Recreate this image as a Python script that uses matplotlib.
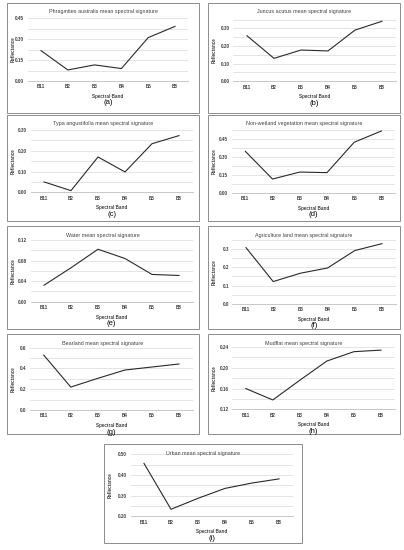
import numpy as np
import matplotlib.pyplot as plt
from matplotlib.patches import Rectangle

plt.rcParams['font.family'] = ['Liberation Sans', 'DejaVu Sans']

bands = ['B11', 'B2', 'B3', 'B4', 'B5', 'B8']

titles = [
    'Phragmites australis mean spectral signature',
    'Juncus acutus mean spectral signature',
    'Typa angustifolia mean spectral signature',
    'Non-wetland vegetation mean spectral signature',
    'Water mean spectral signature',
    'Agriculture land mean spectral signature',
    'Bearland mean spectral signature',
    'Mudflat mean spectral signature',
    'Urban mean spectral signature',
]
captions = ['(a)', '(b)', '(c)', '(d)', '(e)', '(f)', '(g)', '(h)', '(i)']

phragmites = [0.217, 0.079, 0.115, 0.089, 0.310, 0.390]
juncus = [0.258, 0.130, 0.177, 0.172, 0.290, 0.340]
typha = [0.050, 0.008, 0.170, 0.098, 0.234, 0.273]
non_wetland = [0.349, 0.115, 0.174, 0.169, 0.425, 0.520]
water = [0.032, 0.066, 0.102, 0.084, 0.053, 0.051]
agriculture = [0.309, 0.122, 0.168, 0.197, 0.293, 0.331]
bearland = [0.529, 0.221, 0.305, 0.385, 0.414, 0.443]
mudflat = [0.160, 0.138, 0.176, 0.213, 0.231, 0.234]
urban = [0.456, 0.234, 0.287, 0.335, 0.361, 0.381]
series = [phragmites, juncus, typha, non_wetland, water, agriculture,
          bearland, mudflat, urban]

# y axis: (min, max, major step, minor step, decimals)
y_axes = [
    (0.0, 0.45, 0.15, 0.075, 2),
    (0.0, 0.35, 0.10, 0.05, 2),
    (0.0, 0.30, 0.10, 0.05, 2),
    (0.0, 0.525, 0.15, 0.075, 2),
    (0.0, 0.12, 0.04, 0.02, 2),
    (0.0, 0.35, 0.1, 0.05, 1),
    (0.0, 0.6, 0.2, 0.1, 1),
    (0.12, 0.24, 0.04, 0.02, 2),
    (0.20, 0.50, 0.10, 0.05, 2),
]

W, H = 404, 550
# panel boxes (x0, y0, x1, y1) and axes (left, right, top, bottom) in pixels
boxes = [
    (7, 3, 199, 113), (208, 3, 400, 113),
    (7, 115, 199, 221), (208, 115, 400, 221),
    (7, 226, 199, 329), (208, 226, 400, 329),
    (7, 334, 199, 434), (208, 334, 400, 434),
    (104, 444, 302, 543),
]
axes_px = [
    (27.6, 188.4, 18, 81), (233.5, 395.5, 19.5, 81.3),
    (30.5, 192.5, 130, 192.3), (231.7, 395, 130.4, 192.7),
    (30.5, 192.5, 240, 301.7), (232.4, 395.6, 240.2, 303.7),
    (30.2, 192.5, 347.7, 410), (232.2, 394.5, 347, 409.3),
    (130.5, 292.5, 454.3, 516.3),
]

fig = plt.figure(figsize=(W / 100, H / 100), dpi=100)
fig.patch.set_facecolor('white')

grid_c = '#d9d9d9'
line_c = '#2a2a2a'
text_c = '#404040'

for i in range(9):
    bx0, by0, bx1, by1 = boxes[i]
    fig.patches.append(Rectangle((bx0 / W, 1 - by1 / H), (bx1 - bx0) / W,
                                 (by1 - by0) / H, transform=fig.transFigure,
                                 fill=False, edgecolor='#8c8c8c', lw=0.7))
    l, r, t, b = axes_px[i]
    ax = fig.add_axes([l / W, 1 - b / H, (r - l) / W, (b - t) / H])
    ymin, ymax, major, minor, dec = y_axes[i]
    x = np.arange(len(bands))
    ax.plot(x, series[i], color=line_c, lw=0.8)
    ax.set_xlim(-0.5, len(bands) - 0.5)
    ax.set_ylim(ymin, ymax)
    ax.set_yticks(np.arange(ymin, ymax + 1e-9, major))
    ax.set_yticks(np.arange(ymin, ymax + 1e-9, minor), minor=True)
    ax.set_yticklabels([f'{v:.{dec}f}' for v in np.arange(ymin, ymax + 1e-9, major)])
    ax.set_xticks(x)
    ax.set_xticklabels(bands)
    ax.tick_params(axis='both', length=0, labelsize=3.3, colors=text_c, pad=2.5)
    ax.tick_params(axis='y', which='minor', length=0)
    for lab in ax.get_xticklabels() + ax.get_yticklabels():
        lab.set_fontweight('bold')
    ax.grid(axis='y', which='both', color=grid_c, lw=0.5)
    ax.set_axisbelow(True)
    for s in ['top', 'right', 'left']:
        ax.spines[s].set_visible(False)
    ax.spines['bottom'].set_color('#bfbfbf')
    ax.spines['bottom'].set_linewidth(0.6)
    ax.set_ylabel('Reflectance', fontsize=3.3, fontweight='bold', color=text_c)
    ax.yaxis.set_label_coords((bx0 + 8.5 - l) / (r - l), 0.5)
    cx = (bx0 + bx1) / 2
    fig.text(cx / W, 1 - (by0 + 9) / H, titles[i], ha='center', va='center',
             fontsize=3.9, color=text_c)
    fig.text((l + r) / 2 / W, 1 - (b + 15.5) / H, 'Spectral Band', ha='center',
             va='center', fontsize=3.3, fontweight='bold', color=text_c)
    fig.text((l + r) / 2 / W, 1 - (b + 22) / H, captions[i], ha='center',
             va='center', fontsize=5.5, color='black')

fig.savefig('out.png', dpi=100, facecolor='white')
